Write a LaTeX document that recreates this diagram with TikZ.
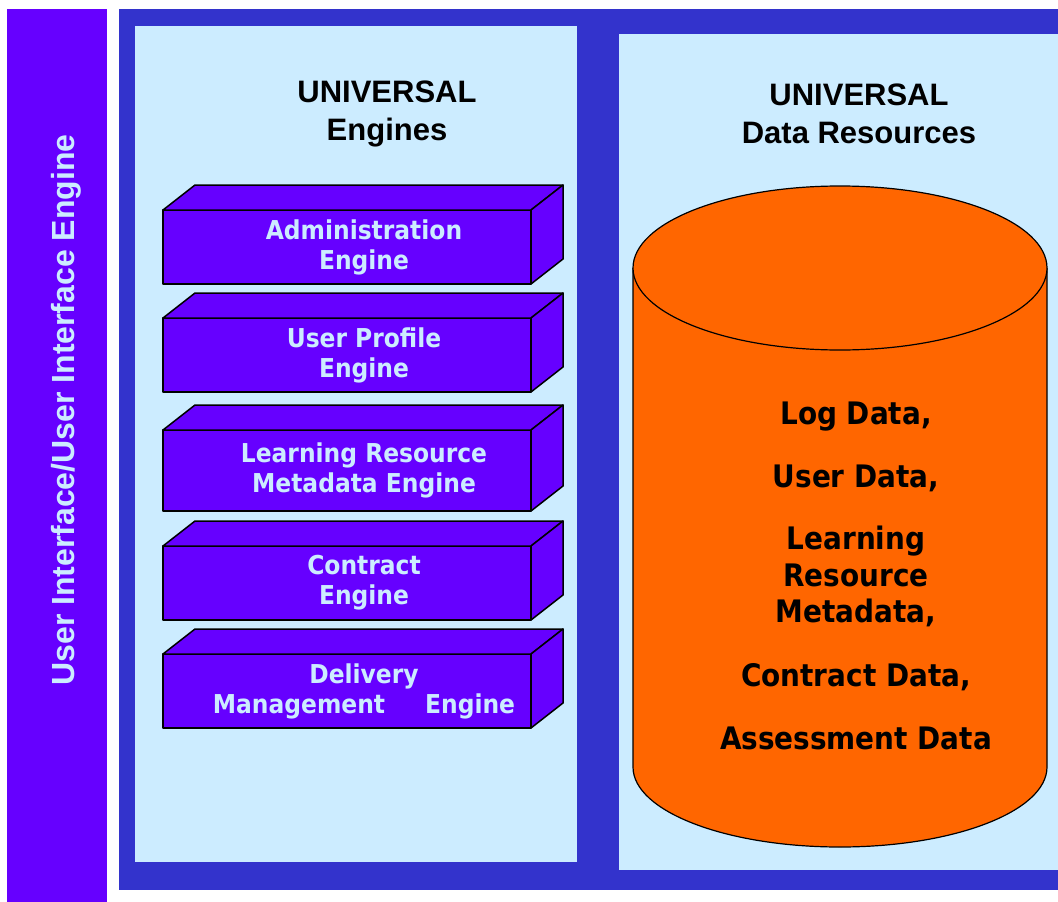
\documentclass[tikz,border=0pt]{standalone}
\usepackage{fontspec}
\setmainfont{Liberation Sans}
\newfontfamily\boxfont[FakeStretch=0.9]{DejaVu Sans}
\definecolor{uiviolet}{HTML}{6600FF}
\definecolor{framebl}{HTML}{3333CC}
\definecolor{panelbl}{HTML}{CCECFF}
\definecolor{dborange}{HTML}{FF6600}
\tikzset{
  enginebox/.style={draw=black,fill=uiviolet,line width=1.5pt,line join=round},
  enginetxt/.style={align=center,text=panelbl,font=\boxfont\fontsize{26}{30}\selectfont\bfseries},
  headtxt/.style={align=center,font=\fontsize{31}{38}\selectfont\bfseries},
  datatxt/.style={align=center,font=\boxfont\fontsize{31}{36.5}\selectfont\bfseries}
}

\begin{document}
\begin{tikzpicture}[x=1pt,y=-1pt]
  \useasboundingbox (0,0) rectangle (1058,902);
  % background panels
  \fill[uiviolet] (7,9) rectangle (107,902);
  \fill[framebl] (119,9) rectangle (1058,890);
  \fill[panelbl] (135,26) rectangle (577,862);
  \fill[panelbl] (619,34) rectangle (1058,870);
  \node[rotate=90,text=panelbl,font=\fontsize{32}{36}\selectfont\bfseries] (UI) at (66,410) {User Interface/User Interface Engine};
  \node[headtxt] (H-1) at (387,114) {UNIVERSAL\\Engines};
  \node[headtxt] (H-2) at (859,114) {UNIVERSAL\\Data Resources};
  % engine blocks
  \foreach \y/\h/\txt [count=\i] in {210/74/{Administration\\Engine},
      318/74/{User Profile\\Engine},
      430/81/{Learning Resource\\Metadata Engine},
      546/74/{Contract\\Engine},
      654/74/{Delivery\\Management\hspace{40pt}Engine}}{%
    \filldraw[enginebox] (163,\y) rectangle (531,\y+\h);
    \filldraw[enginebox] (163,\y) -- (195,\y-25) -- (563,\y-25) -- (531,\y) -- cycle;
    \filldraw[enginebox] (531,\y) -- (563,\y-25) -- (563,\y+\h-25) -- (531,\y+\h) -- cycle;
    \node[enginetxt] (E-\i) at (364,\y+\h/2) {\txt};
  }
  % data store
  \filldraw[fill=dborange,line width=1.2pt] (633,268) -- (633,767)
    arc[start angle=180,end angle=0,x radius=207,y radius=80] -- (1047,268);
  \filldraw[fill=dborange,line width=1.2pt] (840,268) ellipse[x radius=207,y radius=82];
  \node[datatxt] (DB) at (856,576) {Log Data,\\[26.5pt]User Data,\\[25.5pt]Learning\\Resource\\Metadata,\\[27.5pt]Contract Data,\\[26.5pt]Assessment Data};
\end{tikzpicture}
\end{document}
